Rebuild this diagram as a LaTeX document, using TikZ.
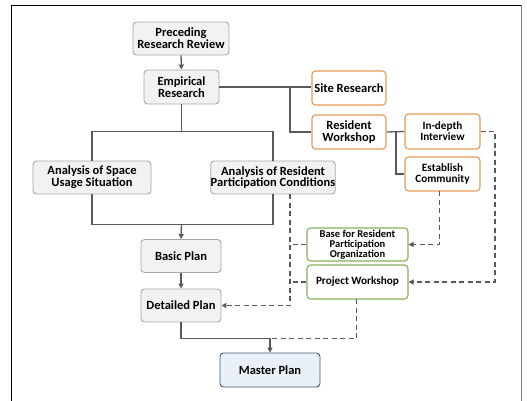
\documentclass[tikz,border=0pt]{standalone}
\usepackage{fontspec}
\setmainfont{Carlito}
\usetikzlibrary{arrows.meta}
\definecolor{boxfill}{HTML}{F2F2F2}
\definecolor{boxline}{HTML}{A6A6A6}
\definecolor{conn}{HTML}{595959}
\definecolor{orng}{HTML}{E69A55}
\definecolor{grn}{HTML}{86B05A}
\definecolor{mfill}{HTML}{EAF0F7}
\definecolor{mline}{HTML}{3E5A76}
\tikzset{
  base/.style={rounded corners=3.5pt, align=center, font=\bfseries\fontsize{12.5}{11.8}\selectfont, inner sep=0pt, line width=0.9pt},
  graybox/.style={base, draw=boxline, fill=boxfill},
  orangebox/.style={base, draw=orng, fill=white, line width=1.1pt},
  greenbox/.style={base, draw=grn, fill=white, line width=1.1pt},
  masterbox/.style={base, draw=mline, fill=mfill},
  small/.style={font=\bfseries\fontsize{11.2}{10.8}\selectfont},
  tiny/.style={font=\bfseries\fontsize{10.5}{10}\selectfont},
  solidc/.style={draw=conn, line width=1.3pt},
  dashc/.style={draw=conn, line width=1.3pt, dash pattern=on 5pt off 3.5pt},
  arr/.style={-{Triangle[length=5pt,width=5pt]}},
}
\begin{document}
\begin{tikzpicture}[x=1pt,y=-1pt]
\useasboundingbox (0,0) rectangle (527,401);
% frame
\draw[black, line width=1.3pt] (11.5,401) -- (11.5,5.5) -- (521.5,5.5);
\draw[gray, line width=0.5pt] (521.7,5.5) -- (521.7,401);
% nodes
\node[graybox, minimum width=96pt, minimum height=33pt] (prr) at (181,38.5) {Preceding\\Research Review};
\node[graybox, minimum width=75pt, minimum height=34pt] (emp) at (181.5,87) {Empirical\\Research};
\node[orangebox, minimum width=74pt, minimum height=34pt] (site) at (349,88) {Site Research};
\node[orangebox, minimum width=74pt, minimum height=34pt] (rw) at (349,132) {Resident\\Workshop};
\node[orangebox, small, minimum width=75pt, minimum height=35pt] (idi) at (442.5,131.5) {In-depth\\Interview};
\node[orangebox, small, minimum width=75pt, minimum height=34pt] (ec) at (442.5,174) {Establish\\Community};
\node[graybox, minimum width=118pt, minimum height=33pt] (asu) at (92,177.5) {Analysis of Space\\Usage Situation};
\node[graybox, minimum width=122pt, minimum height=33pt] (arp) at (273,177.5) {Analysis of Resident\\Participation Conditions};
\node[graybox, minimum width=80pt, minimum height=33pt] (bp) at (181,256) {Basic Plan};
\node[graybox, minimum width=80pt, minimum height=33pt] (dp) at (181,305.5) {Detailed Plan};
\node[greenbox, tiny, minimum width=101pt, minimum height=33pt] (brp) at (357.5,244.5) {Base for Resident\\Participation\\Organization};
\node[greenbox, small, minimum width=101pt, minimum height=34pt] (pw) at (357.5,282) {Project Workshop};
\node[masterbox, minimum width=100pt, minimum height=34pt] (mp) at (270,370) {Master Plan};
% coordinates
\coordinate (j1) at (290,87);
\coordinate (j2) at (396,131.5);
\coordinate (j3) at (181.5,131.7);
\coordinate (j4) at (181.5,224.3);
\coordinate (dtop) at (290,194);
\coordinate (dx) at (290,305.5);
\coordinate (m1) at (270,338.3);
\coordinate (ecb) at (439.3,191);
\coordinate (pwb) at (356.7,299);
\coordinate (rt) at (495,282);
% solid connectors
\draw[solidc, arr] (prr.south) -- (emp.north);
\draw[solidc] (emp.east) -- (emp.east -| site.west);
\draw[solidc] (j1) |- (rw.west);
\draw[solidc] (rw.east) -- (idi.west);
\draw[solidc] (j2) |- (ec.west);
\draw[solidc] (emp.south) -- (j3);
\draw[solidc] (asu.north) |- (j3) -| (arp.north);
\draw[solidc] (asu.south) |- (j4) -| (arp.south);
\draw[solidc, arr] (j4) -- (bp.north);
\draw[solidc, arr] (bp.south) -- (dp.north);
\draw[solidc] (dp.south) |- (m1);
\draw[solidc, arr] (m1) -- (mp.north);
% dashed connectors
\draw[dashc, arr] (dtop) -- (dx) -- (dp.east);
\draw[dashc] (brp.west) -- (brp.west -| dtop);
\draw[dashc] (pw.west) -- (pw.west -| dtop);
\draw[dashc, arr] (ecb) |- (brp.east);
\draw[dashc, arr] (idi.east) -| (rt) -- (pw.east);
\draw[dashc] (pwb) |- (m1);
\end{tikzpicture}
\end{document}
